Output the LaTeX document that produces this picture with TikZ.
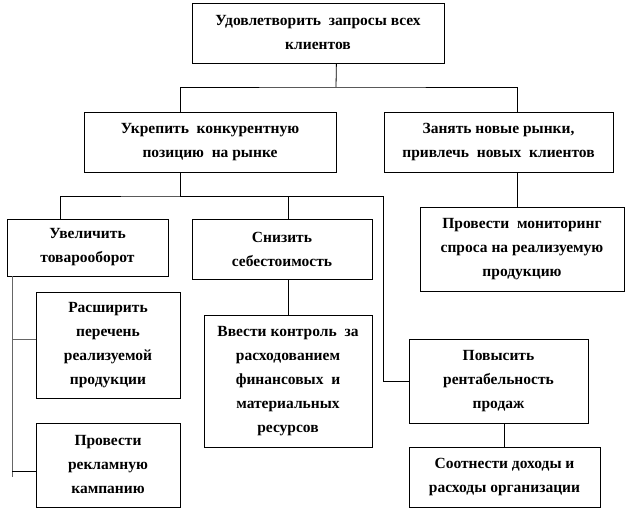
\documentclass[tikz,border=0pt]{standalone}
\usepackage{fontspec}
\setmainfont{Liberation Serif}
\usepackage{tikz}
\usetikzlibrary{positioning,calc}

\begin{document}
\begin{tikzpicture}[x=1pt,y=-1pt,line width=0.8pt,
  bloc/.style={draw,inner sep=0,align=center,font=\fontsize{15.5}{24}\selectfont\bfseries}]
\useasboundingbox (0,0) rectangle (627,510);
\node[bloc,minimum width=252,minimum height=60](Top)at(318,33){Удовлетворить\ \ запросы всех\\клиентов};
\node[bloc,minimum width=252,minimum height=60](Konk)at(210,142){Укрепить\ \ конкурентную\\позицию\ \ на рынке};
\node[bloc,minimum width=229,minimum height=60](Ryn)at(498.5,142){Занять новые рынки,\\привлечь\ \ новых\ \ клиентов};
\node[bloc,minimum width=161,minimum height=57](Tov)at(87.5,247.5){Увеличить\\товарооборот};
\node[bloc,minimum width=180,minimum height=60](Seb)at(282,249){Снизить\\себестоимость};
\node[bloc,minimum width=204,minimum height=84](Mon)at(522,249){Провести\ \ мониторинг\\спроса на реализуемую\\продукцию};
\node[bloc,minimum width=144,minimum height=106](Ras)at(108,345){Расширить\\перечень\\реализуемой\\продукции};
\node[bloc,minimum width=144,minimum height=84](Rek)at(108,465){Провести\\рекламную\\кампанию};
\node[bloc,minimum width=168,minimum height=132](Kon)at(288,381){Ввести контроль\ \ за\\расходованием\\финансовых\ \ и\\материальных\\ресурсов};
\node[bloc,minimum width=179,minimum height=84](Ren)at(498.5,381){Повысить\\рентабельность\\продаж};
\node[bloc,minimum width=191,minimum height=60](Soot)at(504.5,477){Соотнести доходы и\\расходы организации};
% уровень 1
\coordinate(J1)at(336,87);
\draw(Top.south -| Konk.east)--(J1);
\draw([xshift=-30pt]Konk.north)|-(J1)-|([xshift=18.5pt]Ryn.north);
% уровень 2
\coordinate(J2)at(180,196);
\draw([xshift=-30pt]Konk.south)--(J2);
\draw([xshift=-27.5pt]Tov.north)|-(J2)-|([xshift=6pt]Seb.north);
\draw(J2)-|([xshift=-25pt]Ren.west)--(Ren.west);
\draw([xshift=18.5pt]Ryn.south)--([xshift=18.5pt]Ryn.south |- Mon.north);
\draw(Kon.north |- Seb.south)--(Kon.north);
\draw(Soot.north |- Ren.south)--(Soot.north);
% товарооборот
\coordinate(L0)at([xshift=6pt]Tov.south west);
\draw[gray!80!black,line width=1.2pt](L0)--++(0,201);
\draw[gray!80!black]([yshift=6pt]Ras.west)--++(-23,0);
\draw([yshift=-6pt]Rek.west)--++(-24,0);
\end{tikzpicture}
\end{document}
